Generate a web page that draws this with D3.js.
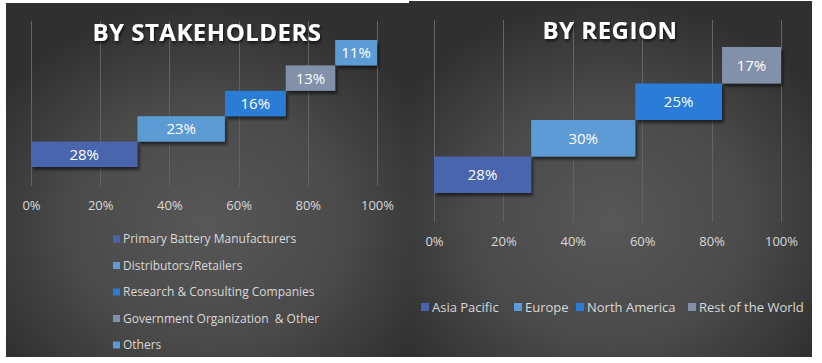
<!DOCTYPE html>
<html>
<head>
<meta charset="utf-8">
<script src="https://cdn.jsdelivr.net/npm/d3@7"></script>
<style>
  html, body { margin: 0; padding: 0; background: #fff; }
  svg { display: block; font-family: "Open Sans", "Noto Sans", sans-serif; }
  text { white-space: pre; }
</style>
</head>
<body>
<svg id="chart" width="822" height="363"></svg>
<script>
// stakeholders data
var stakeholders = ["Primary Battery Manufacturers", "Distributors/Retailers", "Research & Consulting Companies", "Government Organization  & Other", "Others"];
var stakeValues = [28, 23, 16, 13, 11];
var stakeColors = ["#4a65ad", "#5c9bd3", "#2b7cd6", "#8290a9", "#5c9bd3"];

// region data
var regions = ["Asia Pacific", "Europe", "North America", "Rest of the World"];
var regionValues = [28, 30, 25, 17];
var regionColors = ["#4a65ad", "#5c9bd3", "#2b7cd6", "#8290a9"];

var ticks = [0, 0.2, 0.4, 0.6, 0.8, 1];

var svg = d3.select("#chart");
var defs = svg.append("defs");

var grad = defs.append("radialGradient")
    .attr("id", "bg")
    .attr("cx", "50%").attr("cy", "62%").attr("r", "62%");
grad.append("stop").attr("offset", "0%").attr("stop-color", "#575757");
grad.append("stop").attr("offset", "55%").attr("stop-color", "#4a4a4a");
grad.append("stop").attr("offset", "100%").attr("stop-color", "#303030");

var sh = defs.append("filter").attr("id", "shadow")
    .attr("x", "-10%").attr("y", "-20%").attr("width", "130%").attr("height", "160%");
sh.append("feDropShadow").attr("dx", 2).attr("dy", 3).attr("stdDeviation", 1.8)
    .attr("flood-color", "#000").attr("flood-opacity", 0.55);

var tsh = defs.append("filter").attr("id", "tshadow")
    .attr("x", "-10%").attr("y", "-30%").attr("width", "130%").attr("height", "170%");
tsh.append("feDropShadow").attr("dx", 1).attr("dy", 2).attr("stdDeviation", 1.5)
    .attr("flood-color", "#000").attr("flood-opacity", 0.7);

function drawPanel(opt) {
  var g = svg.append("g");

  g.append("rect")
    .attr("x", opt.box[0]).attr("y", opt.box[1])
    .attr("width", opt.box[2]).attr("height", opt.box[3])
    .attr("fill", "url(#bg)");

  var total = d3.sum(opt.values);
  var starts = [];
  var acc = 0;
  opt.values.forEach(function(v) { starts.push(acc / total); acc += v; });

  var x = d3.scaleLinear().domain([0, 1]).range(opt.xRange);
  var y = d3.scaleBand().domain(opt.cats).range(opt.yRange).padding(0);

  // gridlines
  g.append("g").selectAll("line")
    .data(ticks)
    .enter()
    .append("line")
      .attr("x1", function(d){ return Math.round(x(d)) + 0.5 })
      .attr("x2", function(d){ return Math.round(x(d)) + 0.5 })
      .attr("y1", opt.grid[0])
      .attr("y2", opt.grid[1])
      .attr("stroke", "#636363")
      .attr("stroke-width", 1);

  // axis labels
  var axis = d3.axisBottom(x).tickValues(ticks).tickFormat(d3.format(".0%")).tickSize(0);
  var ax = g.append("g")
    .attr("transform", "translate(0," + opt.tickY + ")")
    .call(axis);
  ax.select(".domain").remove();
  ax.selectAll("text")
    .attr("y", 0)
    .attr("fill", "#d9d9d9")
    .attr("font-size", 13)
    .attr("font-family", "\"Open Sans\", sans-serif")
    .attr("dy", "0.35em");

  // bars
  g.append("g").selectAll("rect")
    .data(opt.values)
    .enter()
    .append("rect")
      .attr("x", function(d, i){ return x(starts[i]) })
      .attr("y", function(d, i){ return y(opt.cats[i]) })
      .attr("width", function(d){ return x(d / total) - x(0) })
      .attr("height", y.bandwidth())
      .attr("fill", function(d, i){ return opt.colors[i] })
      .attr("filter", "url(#shadow)");

  g.append("g").selectAll("text")
    .data(opt.values)
    .enter()
    .append("text")
      .attr("x", function(d, i){ return x(starts[i] + d / total / 2) })
      .attr("y", function(d, i){ return y(opt.cats[i]) + y.bandwidth() / 2 })
      .attr("dy", "0.36em")
      .attr("text-anchor", "middle")
      .attr("fill", "#fff")
      .attr("font-size", 15)
      .text(function(d){ return d + "%" });

  // title
  g.append("text")
    .attr("x", opt.title[1]).attr("y", opt.title[2])
    .attr("text-anchor", "middle")
    .attr("fill", "#fff")
    .attr("font-weight", "bold")
    .attr("font-size", 24)
    .attr("letter-spacing", 0.5)
    .attr("filter", "url(#tshadow)")
    .text(opt.title[0]);

  return g;
}

var left = drawPanel({
  box: [6, 3, 403, 354],
  cats: stakeholders, values: stakeValues, colors: stakeColors,
  xRange: [31, 377], yRange: [167, 40], grid: [21, 186], tickY: 205,
  title: ["BY STAKEHOLDERS", 207, 41]
});

var right = drawPanel({
  box: [409, 1, 403, 356],
  cats: regions, values: regionValues, colors: regionColors,
  xRange: [434, 781], yRange: [193, 47], grid: [20, 222], tickY: 241,
  title: ["BY REGION", 610, 39]
});

// vertical legend (left)
var lg = left.append("g").selectAll("g")
  .data(stakeholders)
  .enter()
  .append("g")
    .attr("transform", function(d, i){ return "translate(113," + (239 + i * 26.5) + ")" });
lg.append("rect")
  .attr("x", 0).attr("y", -3.5).attr("width", 7).attr("height", 7)
  .attr("fill", function(d, i){ return stakeColors[i] });
lg.append("text")
  .attr("x", 10).attr("dy", "0.36em")
  .attr("fill", "#d9d9d9").attr("font-size", 12)
  .text(function(d){ return d });

// horizontal legend (right)
var legX = [421, 514, 576, 688];
var rg = right.append("g").selectAll("g")
  .data(regions)
  .enter()
  .append("g")
    .attr("transform", function(d, i){ return "translate(" + legX[i] + ",307)" });
rg.append("rect")
  .attr("x", 0).attr("y", -4).attr("width", 8).attr("height", 8)
  .attr("fill", function(d, i){ return regionColors[i] });
rg.append("text")
  .attr("x", 11).attr("dy", "0.36em")
  .attr("fill", "#d9d9d9").attr("font-size", 13)
  .text(function(d){ return d });
</script>
</body>
</html>
